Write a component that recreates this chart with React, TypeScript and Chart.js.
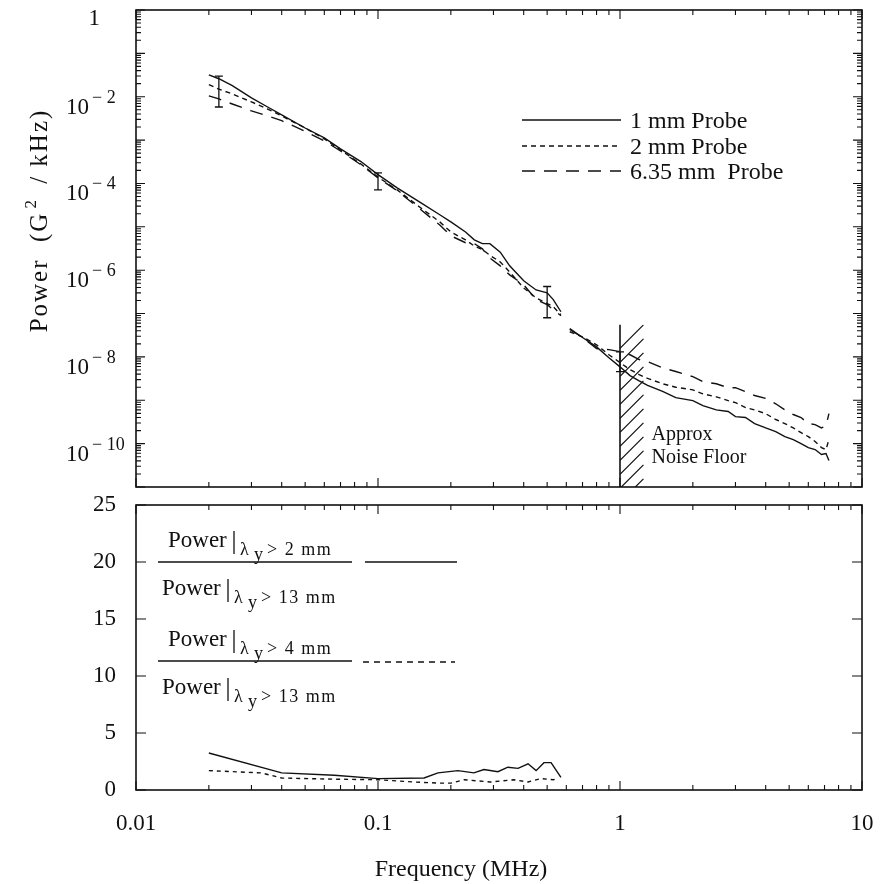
import React, { useEffect, useRef } from "react";
import { Chart, registerables } from "chart.js";

Chart.register(...registerables);

const SERIF = '"Liberation Serif", "Times New Roman", serif';
const INK = "#111";

// ---------- Top panel: power spectra ----------
const spectrumFreq = [
  0.02, 0.022, 0.025, 0.03, 0.035, 0.04, 0.05, 0.06, 0.07, 0.085, 0.1, 0.12, 0.15, 0.18, 0.2, 0.23,
  0.25, 0.27, 0.29, 0.32, 0.35, 0.4, 0.45, 0.5, 0.53, 0.57, 0.6, 0.62, 0.7, 0.8, 0.9, 1.0, 1.1, 1.2,
  1.3, 1.5, 1.7, 2.0, 2.2, 2.5, 2.8, 3.0, 3.3, 3.6, 4.0, 4.4, 4.8, 5.2, 5.6, 6.0, 6.4, 6.8, 7.1, 7.3,
];
const power1mm = [
  3.2e-2, 2.6e-2, 1.8e-2, 9.4e-3, 5.8e-3, 3.8e-3, 1.9e-3, 1.12e-3, 6.3e-4, 3.2e-4, 1.6e-4, 7.9e-5,
  3.6e-5, 1.9e-5, 1.3e-5, 7.6e-6, 5.0e-6, 4.1e-6, 4.1e-6, 2.6e-6, 1.26e-6, 5.7e-7, 3.5e-7, 3.0e-7,
  2.1e-7, 1.1e-7, null, 4.3e-8, 2.8e-8, 1.7e-8, 9.6e-9, 5.9e-9, 3.7e-9, 2.8e-9, 2.2e-9, 1.6e-9,
  1.15e-9, 9.8e-10, 7.5e-10, 6.0e-10, 5.5e-10, 4.2e-10, 4.0e-10, 2.9e-10, 2.3e-10, 1.9e-10, 1.45e-10,
  1.24e-10, 1.0e-10, 8.1e-11, 7.3e-11, 5.6e-11, 5.9e-11, 4.1e-11,
];
const power2mm = [
  1.9e-2, 1.5e-2, 1.16e-2, 7.6e-3, 5.2e-3, 3.6e-3, 1.9e-3, 1.07e-3, 5.9e-4, 2.8e-4, 1.4e-4, 7.1e-5,
  2.75e-5, 1.3e-5, 7.6e-6, 5.0e-6, 3.6e-6, 3.0e-6, 2.2e-6, 1.55e-6, 9.1e-7, 3.9e-7, 2.3e-7, 1.7e-7,
  1.44e-7, 9.4e-8, null, 3.8e-8, 2.9e-8, 1.9e-8, 1.12e-8, 7.4e-9, 5.1e-9, 3.9e-9, 3.2e-9, 2.4e-9,
  2.0e-9, 1.74e-9, 1.41e-9, 1.2e-9, 9.8e-10, 8.8e-10, 6.8e-10, 6.0e-10, 4.9e-10, 3.6e-10, 2.9e-10,
  2.3e-10, 1.8e-10, 1.45e-10, 1.12e-10, 8.1e-11, 7.3e-11, 1.24e-10,
];
const power635mm = [
  1.05e-2, 8.9e-3, 6.8e-3, 4.7e-3, 3.6e-3, 2.8e-3, 1.6e-3, 9.6e-4, 5.6e-4, 2.7e-4, 1.35e-4, 6.8e-5,
  2.5e-5, 1.1e-5, 6.2e-6, 4.3e-6, 4.1e-6, 3.1e-6, 1.9e-6, 1.26e-6, 7.8e-7, 4.6e-7, 2.1e-7, 1.6e-7,
  1.23e-7, 8.9e-8, null, 4.5e-8, 2.8e-8, 1.55e-8, 1.47e-8, 1.32e-8, 1.12e-8, 8.7e-9, 7.8e-9, 5.6e-9,
  4.6e-9, 3.5e-9, 2.7e-9, 2.4e-9, 1.95e-9, 1.95e-9, 1.58e-9, 1.29e-9, 1.1e-9, 8.3e-10, 6.0e-10,
  4.7e-10, 4.0e-10, 2.9e-10, 2.75e-10, 2.3e-10, 2.6e-10, 4.9e-10,
];
const probeLabels = ["1 mm Probe", "2 mm Probe", "6.35 mm  Probe"];

const errFreq = [0.022, 0.1, 0.5, 1.0];
const errHigh = [3.0e-2, 1.75e-4, 4.2e-7, 1.3e-8];
const errLow = [5.8e-3, 7.1e-5, 8.0e-8, 4.6e-9];

const noiseFloorFreq = [1.0, 1.25];
const noiseFloorTop = 5.5e-8;
const noiseLabel = ["Approx", "Noise Floor"];

const powerLabelExponents = [0, -2, -4, -6, -8, -10];
const powerAxisTitle = ["Power  (G", "2", " / kHz)"];

// ---------- Bottom panel: power ratios ----------
const ratio2Freq = [0.02, 0.04, 0.066, 0.1, 0.155, 0.177, 0.214, 0.249, 0.274, 0.313, 0.344, 0.379, 0.417, 0.45, 0.485, 0.519, 0.57];
const ratio2 = [3.25, 1.5, 1.3, 1.0, 1.05, 1.5, 1.7, 1.5, 1.8, 1.6, 2.0, 1.9, 2.3, 1.7, 2.4, 2.4, 1.1];
const ratio4Freq = [0.02, 0.033, 0.04, 0.066, 0.1, 0.141, 0.182, 0.2, 0.227, 0.292, 0.363, 0.417, 0.47, 0.53, 0.55];
const ratio4 = [1.7, 1.5, 1.05, 0.95, 0.9, 0.7, 0.6, 0.6, 0.9, 0.7, 0.9, 0.7, 1.0, 0.9, 1.0];
const ratioTicks = [0, 5, 10, 15, 20, 25];
const freqTicks = [0.01, 0.1, 1, 10];
const ratioSubscripts = ["> 2 mm", "> 13 mm", "> 4 mm", "> 13 mm"];
const freqAxisTitle = "Frequency (MHz)";

const DASH_2MM = [5, 4];
const DASH_635 = [13, 9];

function drawFrameAndTicks(chart: any, yTicks: { value: number; len: number }[]) {
  const { ctx, chartArea: a, scales } = chart;
  const xs = scales.x;
  const ys = scales.y;
  ctx.save();
  ctx.strokeStyle = INK;
  ctx.setLineDash([]);
  ctx.lineWidth = 1.6;
  ctx.strokeRect(a.left, a.top, a.right - a.left, a.bottom - a.top);
  ctx.lineWidth = 1.1;
  ctx.beginPath();
  for (const d of freqTicks) {
    for (let m = 1; m <= 9; m++) {
      const v = d * m;
      if (v > 10.0001) break;
      const px = xs.getPixelForValue(v);
      const len = m === 1 ? 9 : 5;
      ctx.moveTo(px, a.bottom);
      ctx.lineTo(px, a.bottom - len);
      ctx.moveTo(px, a.top);
      ctx.lineTo(px, a.top + len);
    }
  }
  for (const t of yTicks) {
    const py = ys.getPixelForValue(t.value);
    ctx.moveTo(a.left, py);
    ctx.lineTo(a.left + t.len, py);
    ctx.moveTo(a.right, py);
    ctx.lineTo(a.right - t.len, py);
  }
  ctx.stroke();
  ctx.restore();
}

const logYTicks: { value: number; len: number }[] = [];
for (let e = -11; e <= 0; e++) {
  for (let m = 1; m <= 9; m++) {
    if (e === 0 && m > 1) break;
    logYTicks.push({ value: m * Math.pow(10, e), len: m === 1 ? 9 : 5 });
  }
}

const topDecor = {
  id: "topDecor",
  afterDraw(chart: any) {
    drawFrameAndTicks(chart, logYTicks);
    const { ctx, chartArea: a, scales } = chart;
    const xs = scales.x;
    const ys = scales.y;
    ctx.save();
    ctx.strokeStyle = INK;
    ctx.fillStyle = INK;

    // error bars
    ctx.lineWidth = 1.3;
    ctx.beginPath();
    errFreq.forEach((f, i) => {
      const px = xs.getPixelForValue(f);
      const y1 = ys.getPixelForValue(errHigh[i]);
      const y2 = ys.getPixelForValue(errLow[i]);
      ctx.moveTo(px, y1);
      ctx.lineTo(px, y2);
      ctx.moveTo(px - 4, y1);
      ctx.lineTo(px + 4, y1);
      ctx.moveTo(px - 4, y2);
      ctx.lineTo(px + 4, y2);
    });
    ctx.stroke();

    // noise floor hatch
    const nx1 = xs.getPixelForValue(noiseFloorFreq[0]);
    const nx2 = xs.getPixelForValue(noiseFloorFreq[1]);
    const ny = ys.getPixelForValue(noiseFloorTop);
    ctx.lineWidth = 1.6;
    ctx.beginPath();
    ctx.moveTo(nx1, a.bottom);
    ctx.lineTo(nx1, ny);
    ctx.stroke();
    ctx.save();
    ctx.beginPath();
    ctx.rect(nx1, ny, nx2 - nx1 + 1, a.bottom - ny);
    ctx.clip();
    ctx.lineWidth = 1.2;
    ctx.beginPath();
    const w = nx2 - nx1;
    for (let y = ny; y < a.bottom + w; y += 14) {
      ctx.moveTo(nx1, y + w);
      ctx.lineTo(nx2, y);
    }
    ctx.stroke();
    ctx.restore();

    ctx.font = `20px ${SERIF}`;
    ctx.textAlign = "left";
    ctx.textBaseline = "alphabetic";
    ctx.fillText(noiseLabel[0], nx2 + 8, 440);
    ctx.fillText(noiseLabel[1], nx2 + 8, 463);

    // legend
    const dashes = [[], DASH_2MM, DASH_635];
    const rows = [120, 146, 171];
    ctx.lineWidth = 1.4;
    rows.forEach((ry, i) => {
      ctx.setLineDash(dashes[i]);
      ctx.beginPath();
      ctx.moveTo(522, ry);
      ctx.lineTo(621, ry);
      ctx.stroke();
    });
    ctx.setLineDash([]);
    ctx.font = `24px ${SERIF}`;
    rows.forEach((ry, i) => {
      ctx.fillText(probeLabels[i], 630, ry + 8);
    });

    // y tick labels with superscripts
    for (const e of powerLabelExponents) {
      const py = ys.getPixelForValue(Math.pow(10, e));
      if (e === 0) {
        ctx.font = `23px ${SERIF}`;
        ctx.textAlign = "right";
        ctx.fillText("1", 100, py + 15);
      } else {
        ctx.font = `23px ${SERIF}`;
        ctx.textAlign = "right";
        ctx.fillText("10", 89, py + 17);
        ctx.font = `18px ${SERIF}`;
        ctx.textAlign = "left";
        ctx.fillText(`\u2212 ${-e}`, 92, py + 6);
      }
    }

    // y axis title (rotated)
    ctx.save();
    ctx.translate(47, 222);
    ctx.rotate(-Math.PI / 2);
    ctx.letterSpacing = "2px";
    ctx.font = `25px ${SERIF}`;
    const w1 = ctx.measureText(powerAxisTitle[0]).width;
    ctx.font = `17px ${SERIF}`;
    const w2 = ctx.measureText(powerAxisTitle[1]).width + 6;
    ctx.font = `25px ${SERIF}`;
    const w3 = ctx.measureText(powerAxisTitle[2]).width;
    let tx = -(w1 + w2 + w3) / 2;
    ctx.textAlign = "left";
    ctx.fillText(powerAxisTitle[0], tx, 0);
    tx += w1 + 3;
    ctx.font = `17px ${SERIF}`;
    ctx.fillText(powerAxisTitle[1], tx, -11);
    tx += w2;
    ctx.font = `25px ${SERIF}`;
    ctx.fillText(powerAxisTitle[2], tx, 0);
    ctx.restore();

    ctx.restore();
  },
};

const linYTicks = ratioTicks.map((v) => ({ value: v, len: 10 }));

const CANVAS2_TOP = 495;

function drawFraction(ctx: any, y0: number, sub1: string, sub2: string) {
  const oy = -CANVAS2_TOP;
  const drawPart = (px: number, baseline: number, sub: string) => {
    ctx.font = `23px ${SERIF}`;
    ctx.letterSpacing = "0px";
    ctx.fillText("Power", px, baseline + oy);
    ctx.beginPath();
    ctx.lineWidth = 1.3;
    ctx.moveTo(px + 66, baseline - 16 + oy);
    ctx.lineTo(px + 66, baseline + 7 + oy);
    ctx.stroke();
    ctx.font = `18px ${SERIF}`;
    ctx.fillText("\u03bb", px + 72, baseline + 8 + oy);
    ctx.fillText("y", px + 86, baseline + 13 + oy);
    ctx.letterSpacing = "1.5px";
    ctx.fillText(sub, px + 99, baseline + 8 + oy);
    ctx.letterSpacing = "0px";
  };
  drawPart(168, y0 - 15, sub1);
  ctx.beginPath();
  ctx.lineWidth = 1.4;
  ctx.moveTo(158, y0 + oy);
  ctx.lineTo(352, y0 + oy);
  ctx.stroke();
  drawPart(162, y0 + 33, sub2);
}

const bottomDecor = {
  id: "bottomDecor",
  afterDraw(chart: any) {
    drawFrameAndTicks(chart, linYTicks);
    const { ctx } = chart;
    ctx.save();
    ctx.fillStyle = INK;
    ctx.strokeStyle = INK;
    ctx.textAlign = "left";
    ctx.textBaseline = "alphabetic";
    drawFraction(ctx, 562, ratioSubscripts[0], ratioSubscripts[1]);
    drawFraction(ctx, 661, ratioSubscripts[2], ratioSubscripts[3]);
    ctx.lineWidth = 1.4;
    ctx.setLineDash([]);
    ctx.beginPath();
    ctx.moveTo(365, 562 - CANVAS2_TOP);
    ctx.lineTo(457, 562 - CANVAS2_TOP);
    ctx.stroke();
    ctx.setLineDash([6, 5]);
    ctx.beginPath();
    ctx.moveTo(363, 662 - CANVAS2_TOP);
    ctx.lineTo(455, 662 - CANVAS2_TOP);
    ctx.stroke();
    ctx.setLineDash([]);
    // x axis title
    ctx.font = `24px ${SERIF}`;
    ctx.textAlign = "center";
    ctx.fillText(freqAxisTitle, 461, 876 - CANVAS2_TOP);
    ctx.restore();
  },
};

function lineDataset(label: string, xs: number[], ys: (number | null)[], dash: number[]) {
  return {
    label,
    data: xs.map((x, i) => ({ x, y: ys[i] })),
    borderColor: INK,
    borderWidth: 1.4,
    borderDash: dash,
    pointRadius: 0,
    fill: false,
    tension: 0,
    spanGaps: false,
  };
}

export default function App() {
  const topRef = useRef<HTMLCanvasElement>(null);
  const botRef = useRef<HTMLCanvasElement>(null);

  useEffect(() => {
    const top = new Chart(topRef.current as HTMLCanvasElement, {
      type: "line",
      data: {
        datasets: [
          lineDataset(probeLabels[0], spectrumFreq, power1mm, []),
          lineDataset(probeLabels[1], spectrumFreq, power2mm, DASH_2MM),
          lineDataset(probeLabels[2], spectrumFreq, power635mm, DASH_635),
        ] as any,
      },
      options: {
        animation: false,
        responsive: false,
        events: [],
        layout: { padding: { left: 136, right: 22, top: 10, bottom: 13 } },
        plugins: { legend: { display: false }, tooltip: { enabled: false } },
        scales: {
          x: { type: "logarithmic", min: 0.01, max: 10, display: false },
          y: { type: "logarithmic", min: 1e-11, max: 1, display: false },
        },
      },
      plugins: [topDecor],
    } as any);

    const bottom = new Chart(botRef.current as HTMLCanvasElement, {
      type: "line",
      data: {
        datasets: [
          lineDataset("λy > 2 mm / λy > 13 mm", ratio2Freq, ratio2, []),
          lineDataset("λy > 4 mm / λy > 13 mm", ratio4Freq, ratio4, [4, 4]),
        ] as any,
      },
      options: {
        animation: false,
        responsive: false,
        events: [],
        layout: { padding: { left: 0, right: 22, top: 10, bottom: 0 } },
        plugins: { legend: { display: false }, tooltip: { enabled: false } },
        scales: {
          x: {
            type: "logarithmic",
            min: 0.01,
            max: 10,
            afterBuildTicks: (s: any) => {
              s.ticks = freqTicks.map((v) => ({ value: v }));
            },
            afterFit: (s: any) => {
              s.height = 94;
              s.paddingLeft = 0;
              s.paddingRight = 0;
            },
            grid: { display: false, drawTicks: false },
            border: { display: false },
            ticks: {
              autoSkip: false,
              maxRotation: 0,
              padding: 20,
              color: INK,
              font: { family: SERIF, size: 23 },
              callback: (v: any) => String(v),
            },
            title: { display: false },
          },
          y: {
            min: 0,
            max: 25,
            afterBuildTicks: (s: any) => {
              s.ticks = ratioTicks.map((v) => ({ value: v }));
            },
            afterFit: (s: any) => {
              s.width = 136;
              s.paddingTop = 0;
              s.paddingBottom = 0;
            },
            grid: { display: false, drawTicks: false },
            border: { display: false },
            ticks: {
              padding: 20,
              color: INK,
              font: { family: SERIF, size: 23 },
            },
          },
        },
      },
      plugins: [bottomDecor],
    } as any);

    return () => {
      top.destroy();
      bottom.destroy();
    };
  }, []);

  return (
    <div style={{ position: "fixed", left: 0, top: 0, width: 884, height: 884, background: "#fff" }}>
      <canvas ref={topRef} width={884} height={500} style={{ position: "absolute", left: 0, top: 0 }} />
      <canvas
        ref={botRef}
        width={884}
        height={389}
        style={{ position: "absolute", left: 0, top: CANVAS2_TOP }}
      />
    </div>
  );
}
